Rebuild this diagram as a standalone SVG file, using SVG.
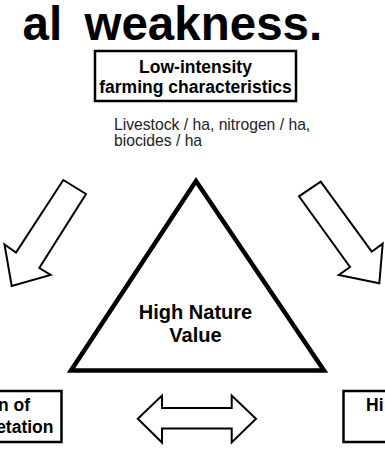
<svg xmlns="http://www.w3.org/2000/svg" width="385" height="449" viewBox="0 0 385 449">
<style>
.b{font-family:"Liberation Sans",Arial,sans-serif;font-weight:bold;fill:#000}
.r{font-family:"Liberation Sans",Arial,sans-serif;fill:#222}
.box{fill:#fff;stroke:#000;stroke-width:2.5}
.arr{fill:#fff;stroke:#000;stroke-width:2;stroke-linejoin:miter}
</style>
<rect width="385" height="449" fill="#fff"/>
<g id="title">
<text class="b" font-size="47.5" y="40"><tspan x="22.5">al</tspan><tspan x="84.5">weakness.</tspan></text>
</g>
<g id="node-farming">
<rect class="box" x="95" y="51" width="201" height="50"/>
<text class="b" font-size="17.5" text-anchor="middle" x="195.5" y="72.5">Low-intensity</text>
<text class="b" font-size="17.5" text-anchor="middle" x="195.5" y="92.5">farming characteristics</text>
</g>
<g id="note-farming">
<text class="r" font-size="15.7" x="114" y="130">Livestock / ha, nitrogen / ha,</text>
<text class="r" font-size="15.7" x="114" y="145.5">biocides / ha</text>
</g>
<g id="node-hnv">
<polygon points="196,181 71,370.5 324,370.5" fill="#fff" stroke="#000" stroke-width="4.5" stroke-linejoin="miter"/>
<text class="b" font-size="20" text-anchor="middle" x="195.5" y="318.5">High Nature</text>
<text class="b" font-size="20" text-anchor="middle" x="195.5" y="341.5">Value</text>
</g>
<g id="node-left">
<rect class="box" x="-20" y="391" width="81.5" height="51"/>
<text class="b" font-size="17.5" text-anchor="end" x="30" y="411">n of</text>
<text class="b" font-size="17.5" text-anchor="end" x="53.5" y="433">etation</text>
</g>
<g id="node-right">
<rect class="box" x="343.5" y="391" width="60" height="51"/>
<text class="b" font-size="17.5" x="366" y="411">Hi</text>
</g>
<g id="connectors">
<polygon class="arr" points="63.3,180 86,194 39.3,268 50.7,275 11.7,286 4.5,244.5 16,252.5"/>
<polygon class="arr" points="320.7,181.7 299,196.3 350,267 338.8,275 379.3,283.3 382.7,243.7 371.7,251.7"/>
<polygon class="arr" points="137.8,418.8 162,395.5 162,408 231.7,408 231.7,395.5 256,418.8 231.7,442.5 231.7,428.5 162,428.5 162,442.5"/>
</g>
</svg>
